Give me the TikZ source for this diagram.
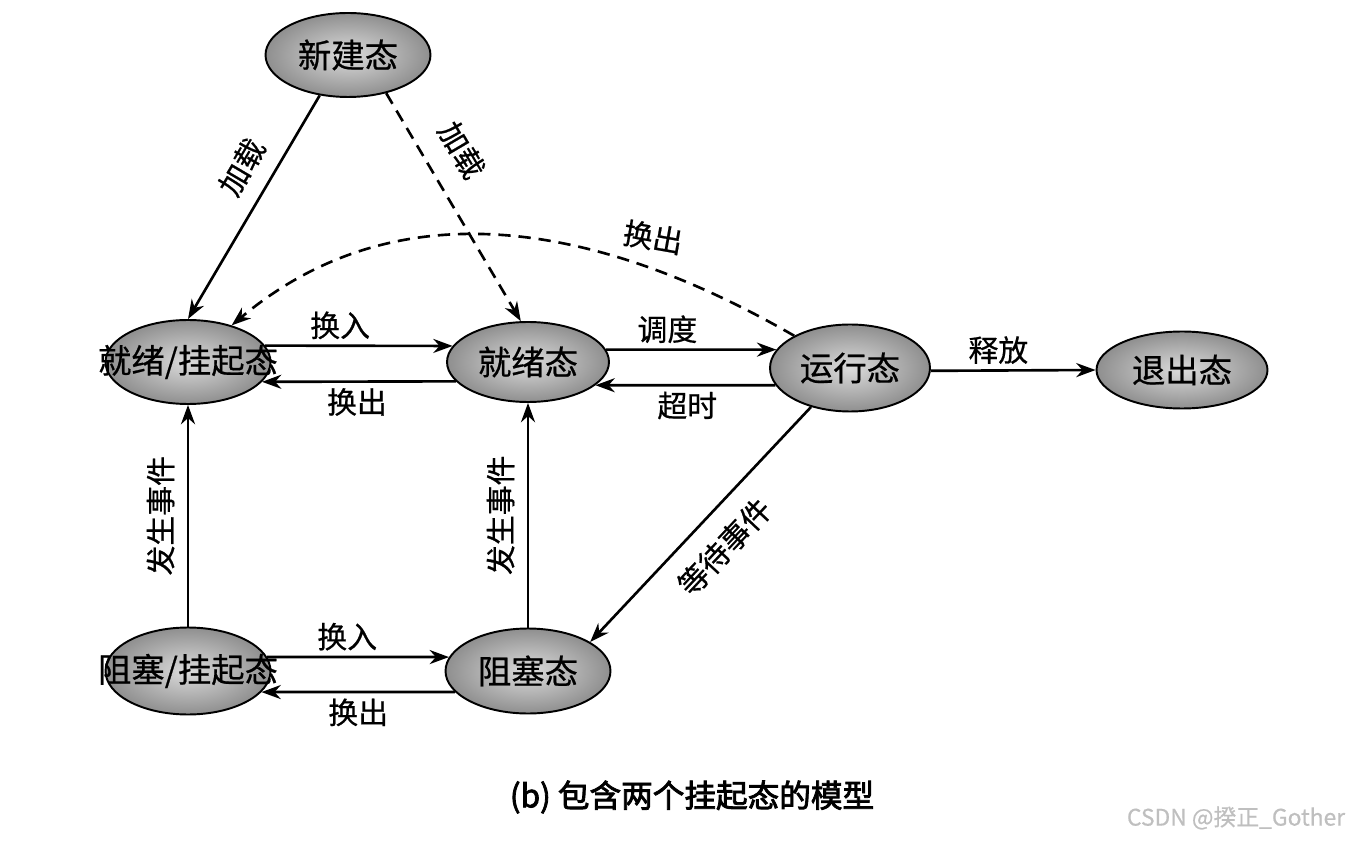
\documentclass[tikz,border=0pt]{standalone}
\usepackage{fontspec}
\setmainfont{Noto Sans CJK SC}[FakeBold=0.6,AutoFakeBold=2.5]
\usetikzlibrary{arrows.meta,shapes.geometric}
\tikzset{
  state/.style={ellipse,draw=black,line width=1.1pt,shade,inner color=gray!28,
    outer color=gray!88,minimum width=3.3cm,minimum height=1.68cm,inner sep=0pt,
    font=\fontsize{19}{22}\selectfont,
    execute at begin node={\hbox to 0pt\bgroup\hss},
    execute at end node={\hss\egroup}},
  arrow/.style={-{Stealth[length=11pt,width=8pt]},line width=1.5pt,draw=black},
  dasharrow/.style={arrow,dash pattern=on 7pt off 4.5pt},
  lab/.style={font=\fontsize{17}{20}\selectfont,inner sep=3pt}
}
\begin{document}
\begin{tikzpicture}[x=0.02cm,y=0.02cm]
\useasboundingbox (0,0) rectangle (1364,842);
\node[state] (new) at (348,787) {新建态};
\node[state] (rsus) at (188,480) {就绪/挂起态};
\node[state,minimum width=3.24cm,minimum height=1.6cm] (ready) at (528,480) {就绪态};
\node[state,minimum width=3.2cm,minimum height=1.74cm] (run) at (850,474) {运行态};
\node[state,minimum width=3.42cm,minimum height=1.54cm] (exit) at (1182,472) {退出态};
\node[state,minimum height=1.74cm] (bsus) at (188,171) {阻塞/挂起态};
\node[state,minimum height=1.7cm] (block) at (528,171) {阻塞态};

% load / swap in and out
\draw[arrow] (new.235) -- node[lab,sloped,above=6pt,pos=.39] {加载} (rsus.north);
\draw[dasharrow] (new.-45) -- node[lab,sloped,above=9pt,pos=.33] {加载} (ready.100);
\draw[dasharrow] (run.150) to[out=150,in=40]
  node[lab,pos=.25,above=6pt,rotate=-10] {换出} (rsus.40);
\draw[arrow] (rsus.12) -- node[lab,above,pos=.4] {换入} (ready.168);
\draw[arrow] (ready.195) -- node[lab,below,pos=.51] {换出} (rsus.-15);

% running
\draw[arrow] (ready.9) -- node[lab,above,pos=.36] {调度} (run.166);
\draw[arrow] (run.193) -- node[lab,below,pos=.49] {超时} (ready.-19);
\draw[arrow] (run.-2) -- node[lab,above,pos=.41] {释放} (exit.west);
\draw[arrow] (run.225) -- node[lab,sloped,below=7pt,pos=.5] {等待事件} (block.25);

% blocked
\draw[arrow] (bsus.north) -- node[lab,sloped,above=4pt] {发生事件} (rsus.south);
\draw[arrow] (block.north) -- node[lab,sloped,above=4pt] {发生事件} (ready.south);
\draw[arrow] (bsus.10) -- node[lab,above,pos=.44] {换入} (block.170);
\draw[arrow] (block.196) -- node[lab,below,pos=.5] {换出} (bsus.-16);

\node[font=\fontsize{18}{21}\selectfont\bfseries] (caption) at (692,45)
  {(b)\ 包含两个挂起态的模型};
\node[font=\fontsize{13}{15}\selectfont,text=gray!50] (mark) at (1236,24)
  {CSDN @揆正\_Gother};
\end{tikzpicture}
\end{document}
